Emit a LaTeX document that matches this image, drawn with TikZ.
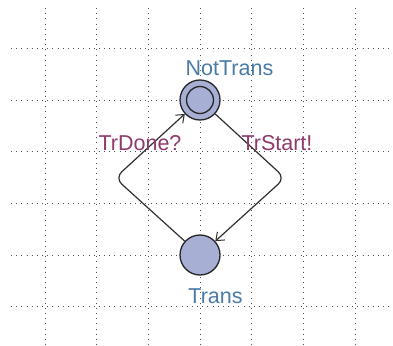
\documentclass[tikz,border=0pt]{standalone}
\usepackage{fontspec}
\setmainfont{Liberation Sans}
\usetikzlibrary{arrows.meta}

\definecolor{gridc}{HTML}{505050}
\definecolor{locfill}{HTML}{A8AFD4}
\definecolor{locname}{HTML}{4A7BA6}
\definecolor{synclbl}{HTML}{8E3B6B}
\definecolor{edgec}{HTML}{303030}

\tikzset{
  griddot/.style={draw=gridc, line width=0.9pt, dash pattern=on 0.9pt off 4.27pt},
  loc/.style={circle, draw=black!85, fill=locfill, line width=1.3pt,
              minimum size=40pt, inner sep=0pt},
  locinner/.style={draw=black!85, line width=1.3pt},
  locname/.style={text=locname, font=\fontsize{21.5}{24}\selectfont, inner sep=0pt},
  synclabel/.style={text=synclbl, font=\fontsize{21.5}{24}\selectfont, inner sep=0pt},
  trans/.style={draw=edgec, line width=1.2pt, rounded corners=9pt,
                -{Straight Barb[length=7pt,width=11pt,line width=1pt]}}
}

\begin{document}
\begin{tikzpicture}[x=1pt, y=-1pt]
  \useasboundingbox (0,0) rectangle (393,345);
  \fill[white] (0,0) rectangle (393,345);

  % dotted background grid
  \foreach \i in {0,...,6}
    \draw[griddot] ({45+\i*51.67},8) -- ({45+\i*51.67},345);
  \foreach \j in {0,...,5}
    \draw[griddot] (11,{48.4+\j*51.67}) -- (393,{48.4+\j*51.67});

  % locations
  \node[loc] (nottrans) at (200,100) {};
  \draw[locinner] (nottrans.center) circle (13.5);
  \node[loc] (trans) at (200,255) {};

  % location names
  \node[locname] (ntname) at (229.5,68) {NotTrans};
  \node[locname] (trname) at (215.5,296) {Trans};

  % bend points of the edges
  \coordinate (bendR) at (285,178);
  \coordinate (bendL) at (115,178);

  % transitions
  \draw[trans] (nottrans) -- (bendR) -- (trans);
  \draw[trans] (trans) -- (bendL) -- (nottrans);

  % synchronisation labels
  \node[synclabel] (start) at (277,143) {TrStart!};
  \node[synclabel] (done) at (140,143) {TrDone?};
\end{tikzpicture}
\end{document}
